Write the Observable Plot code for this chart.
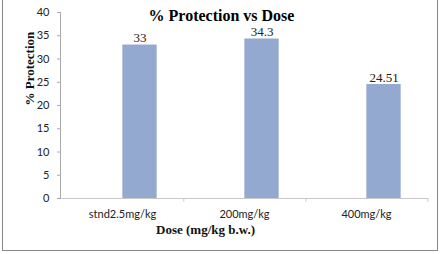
<!DOCTYPE html>
<html><head><meta charset="utf-8">
<script src="https://cdn.jsdelivr.net/npm/d3@7"></script>
<script src="https://cdn.jsdelivr.net/npm/@observablehq/plot@0.6"></script>
<style>
html,body{margin:0;padding:0;background:#fff;}
#wrap{position:relative;width:442px;height:254px;}
#frame{position:absolute;left:2px;top:-2px;width:436px;height:253px;border:1px solid #888;box-sizing:border-box;pointer-events:none;}
</style></head>
<body><div id="wrap"><div id="frame"></div></div>
<script>
const categories = ["stnd2.5mg/kg", "200mg/kg", "400mg/kg"];
const values = [33, 34.3, 24.51];
const valueLabels = ["33", "34.3", "24.51"];
const yTicks = [0, 5, 10, 15, 20, 25, 30, 35, 40];
const title = "% Protection vs Dose";
const xTitle = "Dose (mg/kg b.w.)";
const yTitle = "% Protection";

const data = categories.map((c, i) => ({cat: c, v: values[i], lab: valueLabels[i]}));
const band = (428 - 60) / 3;
const serif = "'Liberation Serif','Times New Roman',serif";

const chart = Plot.plot({
  width: 442, height: 254,
  marginLeft: 60, marginRight: 14, marginTop: 12, marginBottom: 56,
  style: {fontFamily: "Lato, sans-serif", fontSize: "11px", color: "#222", background: "transparent"},
  x: {domain: categories, padding: 0, label: null},
  y: {domain: [0, 40], label: null},
  marks: [
    Plot.barY(data, {x: "cat", y: "v", fill: "#94A9D0", insetLeft: band / 2, insetRight: band / 2 - 35}),
    Plot.ruleY([0], {stroke: "#c8c8c8"}),
    Plot.ruleX(data, {x: "cat", y1: 0, y2: -0.8, dx: band / 2, stroke: "#c8c8c8"}),
    Plot.frame({anchor: "left", stroke: "#aaa"}),
    Plot.axisY({ticks: yTicks, tickSize: 3, tickPadding: 8, stroke: "#aaa", fontSize: 11, label: null}),
    Plot.axisX({tickSize: 0, tickPadding: 12, fontSize: 11, label: null}),
    Plot.text(data, {x: "cat", y: "v", text: "lab", dx: 17.5, dy: -7, fontFamily: serif, fontSize: 13, fill: "#222"}),
    Plot.text([title], {frameAnchor: "top", dx: -23, dy: -3, fontFamily: serif, fontWeight: "bold", fontSize: 16, fill: "#000"}),
    Plot.text([xTitle], {frameAnchor: "bottom", dx: -39, dy: 35, fontFamily: serif, fontWeight: "bold", fontSize: 13, fill: "#111"}),
    Plot.text([yTitle], {frameAnchor: "left", dx: -31, rotate: -90, fontFamily: serif, fontWeight: "bold", fontSize: 13, fill: "#111"})
  ]
});
document.getElementById("wrap").appendChild(chart);
</script>
</body></html>
